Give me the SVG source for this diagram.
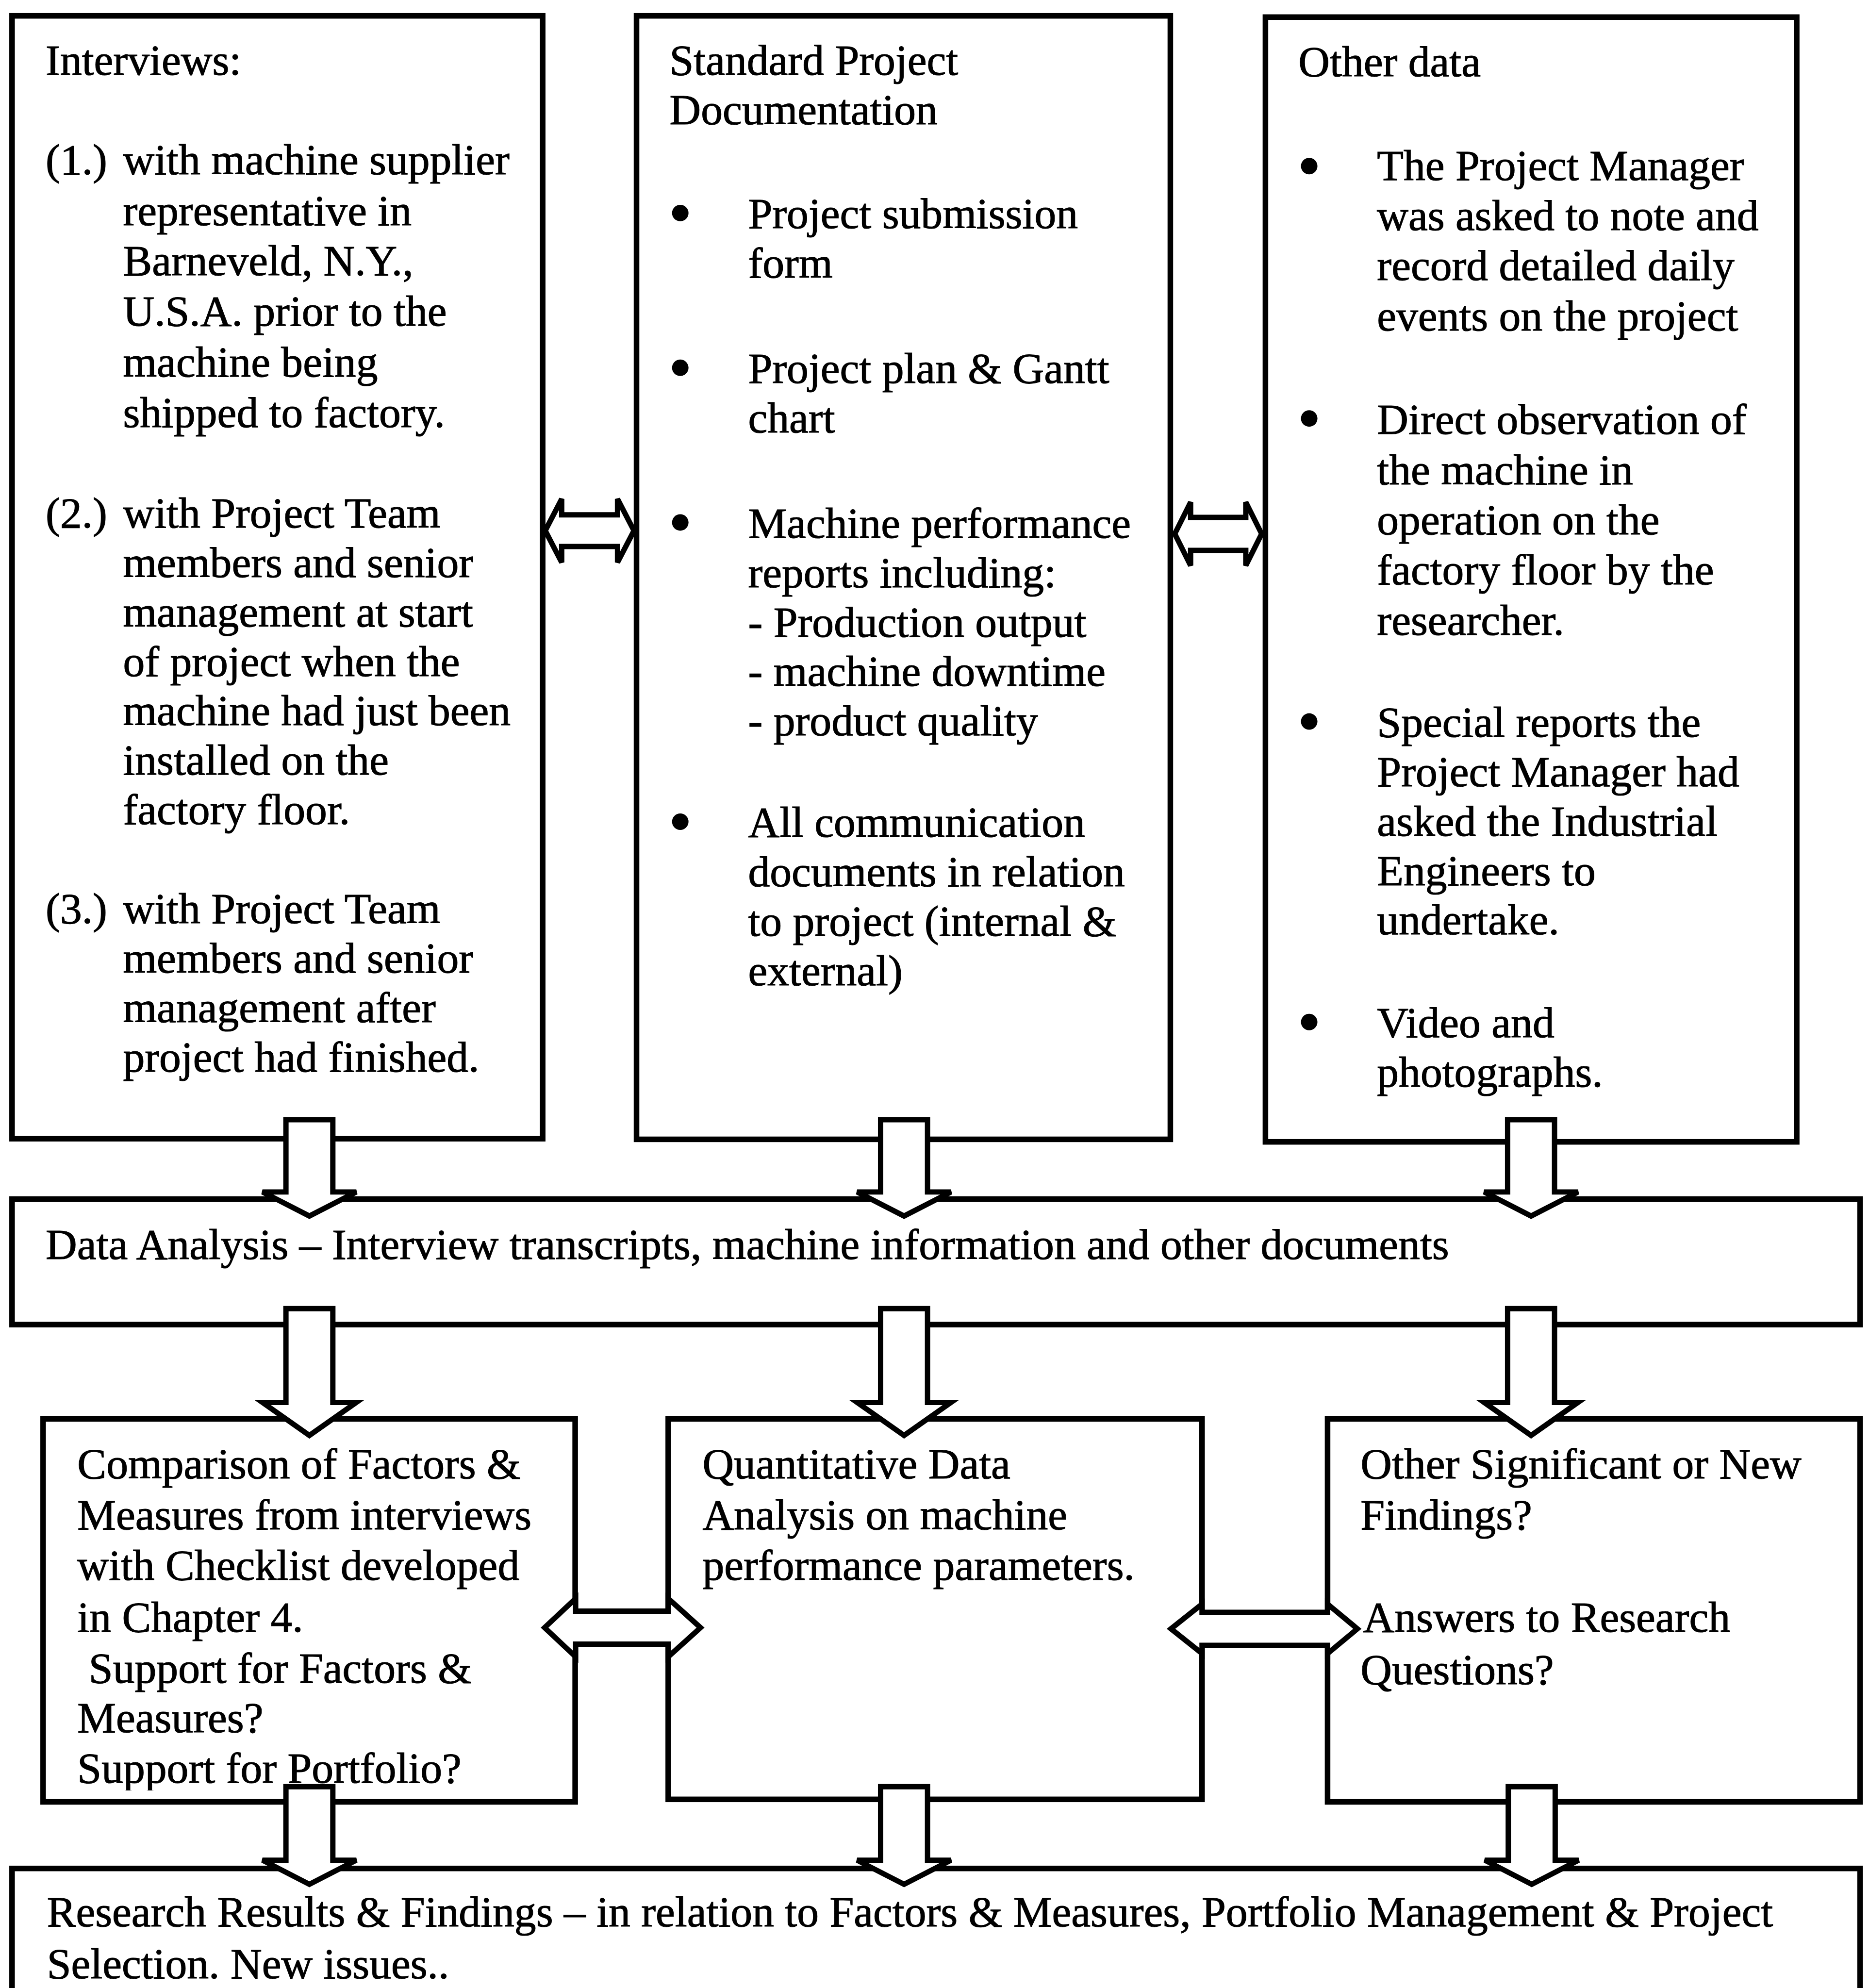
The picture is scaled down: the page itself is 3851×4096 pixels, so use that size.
<svg xmlns="http://www.w3.org/2000/svg" width="3851" height="4096" viewBox="0 0 3851 4096">
  <style>
    .box { fill: none; stroke: #000; stroke-width: 4.4; }
    .arr { fill: #fff; stroke: #000; stroke-width: 4.2; stroke-linejoin: miter; }
    .dot { fill: #000; }
    text { font-family: "Liberation Serif", "Times New Roman", serif; font-size: 34.3px; fill: #000; stroke: #000; stroke-width: 0.45; }
  </style>
  <defs>
    <clipPath id="clipA">
      <rect x="34" y="1119" width="420" height="293"/>
    </clipPath>
  </defs>
  <rect width="3851" height="4096" fill="#fff"/>
  <g transform="scale(2.61262)">

    <!-- Interviews -->
    <g id="interviews">
      <rect class="box" x="9.5" y="12.5" width="418.5" height="885.5"/>
      <text x="36" y="59">Interviews:</text>
      <text x="36" y="137.5">(1.)</text>
      <text x="97" y="137.5">with machine supplier</text>
      <text x="97" y="177.5">representative in</text>
      <text x="97" y="217">Barneveld, N.Y.,</text>
      <text x="97" y="257">U.S.A. prior to the</text>
      <text x="97" y="297">machine being</text>
      <text x="97" y="337">shipped to factory.</text>
      <text x="36" y="416">(2.)</text>
      <text x="97" y="416">with Project Team</text>
      <text x="97" y="455">members and senior</text>
      <text x="97" y="494">management at start</text>
      <text x="97" y="533">of project when the</text>
      <text x="97" y="572">machine had just been</text>
      <text x="97" y="611">installed on the</text>
      <text x="97" y="650">factory floor.</text>
      <text x="36" y="728">(3.)</text>
      <text x="97" y="728">with Project Team</text>
      <text x="97" y="767">members and senior</text>
      <text x="97" y="806">management after</text>
      <text x="97" y="845">project had finished.</text>
    </g>

    <!-- Standard project documentation -->
    <g id="documentation">
      <rect class="box" x="502" y="12.5" width="421" height="886"/>
      <text x="528" y="59">Standard Project</text>
      <text x="528" y="98">Documentation</text>
      <circle class="dot" cx="536.5" cy="168" r="6.5"/>
      <text x="590" y="180">Project submission</text>
      <text x="590" y="219">form</text>
      <circle class="dot" cx="536.5" cy="290" r="6.5"/>
      <text x="590" y="302">Project plan &amp; Gantt</text>
      <text x="590" y="341">chart</text>
      <circle class="dot" cx="536.5" cy="412" r="6.5"/>
      <text x="590" y="424">Machine performance</text>
      <text x="590" y="463">reports including:</text>
      <text x="590" y="502">- Production output</text>
      <text x="590" y="541">- machine downtime</text>
      <text x="590" y="580">- product quality</text>
      <circle class="dot" cx="536.5" cy="648" r="6.5"/>
      <text x="590" y="660">All communication</text>
      <text x="590" y="699">documents in relation</text>
      <text x="590" y="738">to project (internal &amp;</text>
      <text x="590" y="777">external)</text>
    </g>

    <!-- Other data -->
    <g id="other-data">
      <rect class="box" x="998" y="13.5" width="419" height="887"/>
      <text x="1024" y="60">Other data</text>
      <circle class="dot" cx="1032.5" cy="131" r="6.5"/>
      <text x="1086" y="142">The Project Manager</text>
      <text x="1086" y="181.5">was asked to note and</text>
      <text x="1086" y="221">record detailed daily</text>
      <text x="1086" y="260.5">events on the project</text>
      <circle class="dot" cx="1032.5" cy="330" r="6.5"/>
      <text x="1086" y="342">Direct observation of</text>
      <text x="1086" y="382">the machine in</text>
      <text x="1086" y="421.5">operation on the</text>
      <text x="1086" y="461">factory floor by the</text>
      <text x="1086" y="500.5">researcher.</text>
      <circle class="dot" cx="1032.5" cy="569" r="6.5"/>
      <text x="1086" y="581">Special reports the</text>
      <text x="1086" y="620">Project Manager had</text>
      <text x="1086" y="659">asked the Industrial</text>
      <text x="1086" y="698">Engineers to</text>
      <text x="1086" y="737">undertake.</text>
      <circle class="dot" cx="1032.5" cy="806" r="6.5"/>
      <text x="1086" y="818">Video and</text>
      <text x="1086" y="857">photographs.</text>
    </g>

    <!-- Data analysis -->
    <g id="data-analysis">
      <rect class="box" x="9.5" y="945.6" width="1457.5" height="99"/>
      <text x="36" y="993">Data Analysis – Interview transcripts, machine information and other documents</text>
    </g>

    <!-- Comparison of factors and measures -->
    <g id="comparison">
      <rect class="box" x="34" y="1119" width="419.6" height="302"/>
      <g clip-path="url(#clipA)">
        <text x="61" y="1166">Comparison of Factors &amp;</text>
        <text x="61" y="1206">Measures from interviews</text>
        <text x="61" y="1246">with Checklist developed</text>
        <text x="61" y="1287">in Chapter 4.</text>
        <text x="70" y="1327">Support for Factors &amp;</text>
        <text x="61" y="1366">Measures?</text>
        <text x="61" y="1406">Support for Portfolio?</text>
      </g>
    </g>

    <!-- Quantitative analysis -->
    <g id="quantitative">
      <rect class="box" x="527" y="1119" width="421" height="300"/>
      <text x="554" y="1166">Quantitative Data</text>
      <text x="554" y="1206">Analysis on machine</text>
      <text x="554" y="1246">performance parameters.</text>
    </g>

    <!-- Other findings -->
    <g id="findings">
      <rect class="box" x="1047" y="1119" width="420" height="302"/>
      <text x="1073" y="1166">Other Significant or New</text>
      <text x="1073" y="1206">Findings?</text>
      <text x="1075" y="1287">Answers to Research</text>
      <text x="1073" y="1328">Questions?</text>
    </g>

    <!-- Research results -->
    <g id="results">
      <rect class="box" x="9.5" y="1473.5" width="1457.5" height="200"/>
      <text x="37" y="1519">Research Results &amp; Findings – in relation to Factors &amp; Measures, Portfolio Management &amp; Project</text>
      <text x="37" y="1560">Selection. New issues..</text>
    </g>

    <!-- Block arrows -->
    <g id="connectors">
      <!-- sources into data analysis -->
      <path class="arr" d="M225.5,883 H262.5 V940 H281 L244,959 L207,940 H225.5 Z"/>
      <path class="arr" d="M694.5,883 H731.5 V940 H750 L713,959 L676,940 H694.5 Z"/>
      <path class="arr" d="M1189,883 H1226 V940 H1244.5 L1207.5,959 L1170.5,940 H1189 Z"/>
      <!-- data analysis into the three studies -->
      <path class="arr" d="M225.5,1032 H262.5 V1106 H281 L244,1132 L207,1106 H225.5 Z"/>
      <path class="arr" d="M694.5,1032 H731.5 V1106 H750 L713,1132 L676,1106 H694.5 Z"/>
      <path class="arr" d="M1189,1032 H1226 V1106 H1244.5 L1207.5,1132 L1170.5,1106 H1189 Z"/>
      <!-- studies into results -->
      <path class="arr" d="M225.5,1409 H262.5 V1467 H281 L244,1486 L207,1467 H225.5 Z"/>
      <path class="arr" d="M694.5,1409 H731.5 V1467 H750 L713,1486 L676,1467 H694.5 Z"/>
      <path class="arr" d="M1189.5,1409 H1226.5 V1467 H1245 L1208,1486 L1171,1467 H1189.5 Z"/>
      <!-- two-way links between neighbours -->
      <path class="arr" d="M430,418.5 L443,393.5 V406 H487 V393.5 L500,418.5 L487,443.5 V431 H443 V443.5 Z"/>
      <path class="arr" d="M926.5,421 L939,396 V408 H982.5 V396 L995,421 L982.5,446 V434 H939 V446 Z"/>
      <path class="arr" d="M429.5,1283.6 L454,1260.6 V1270.6 H527 V1260.6 L552.5,1283.6 L527,1306.6 V1296.6 H454 V1306.6 Z"/>
      <path class="arr" d="M923.5,1284.5 L948,1265 V1271.5 H1047 V1265 L1070.5,1284.5 L1047,1304 V1297.5 H948 V1304 Z"/>
    </g>
  </g>
</svg>
